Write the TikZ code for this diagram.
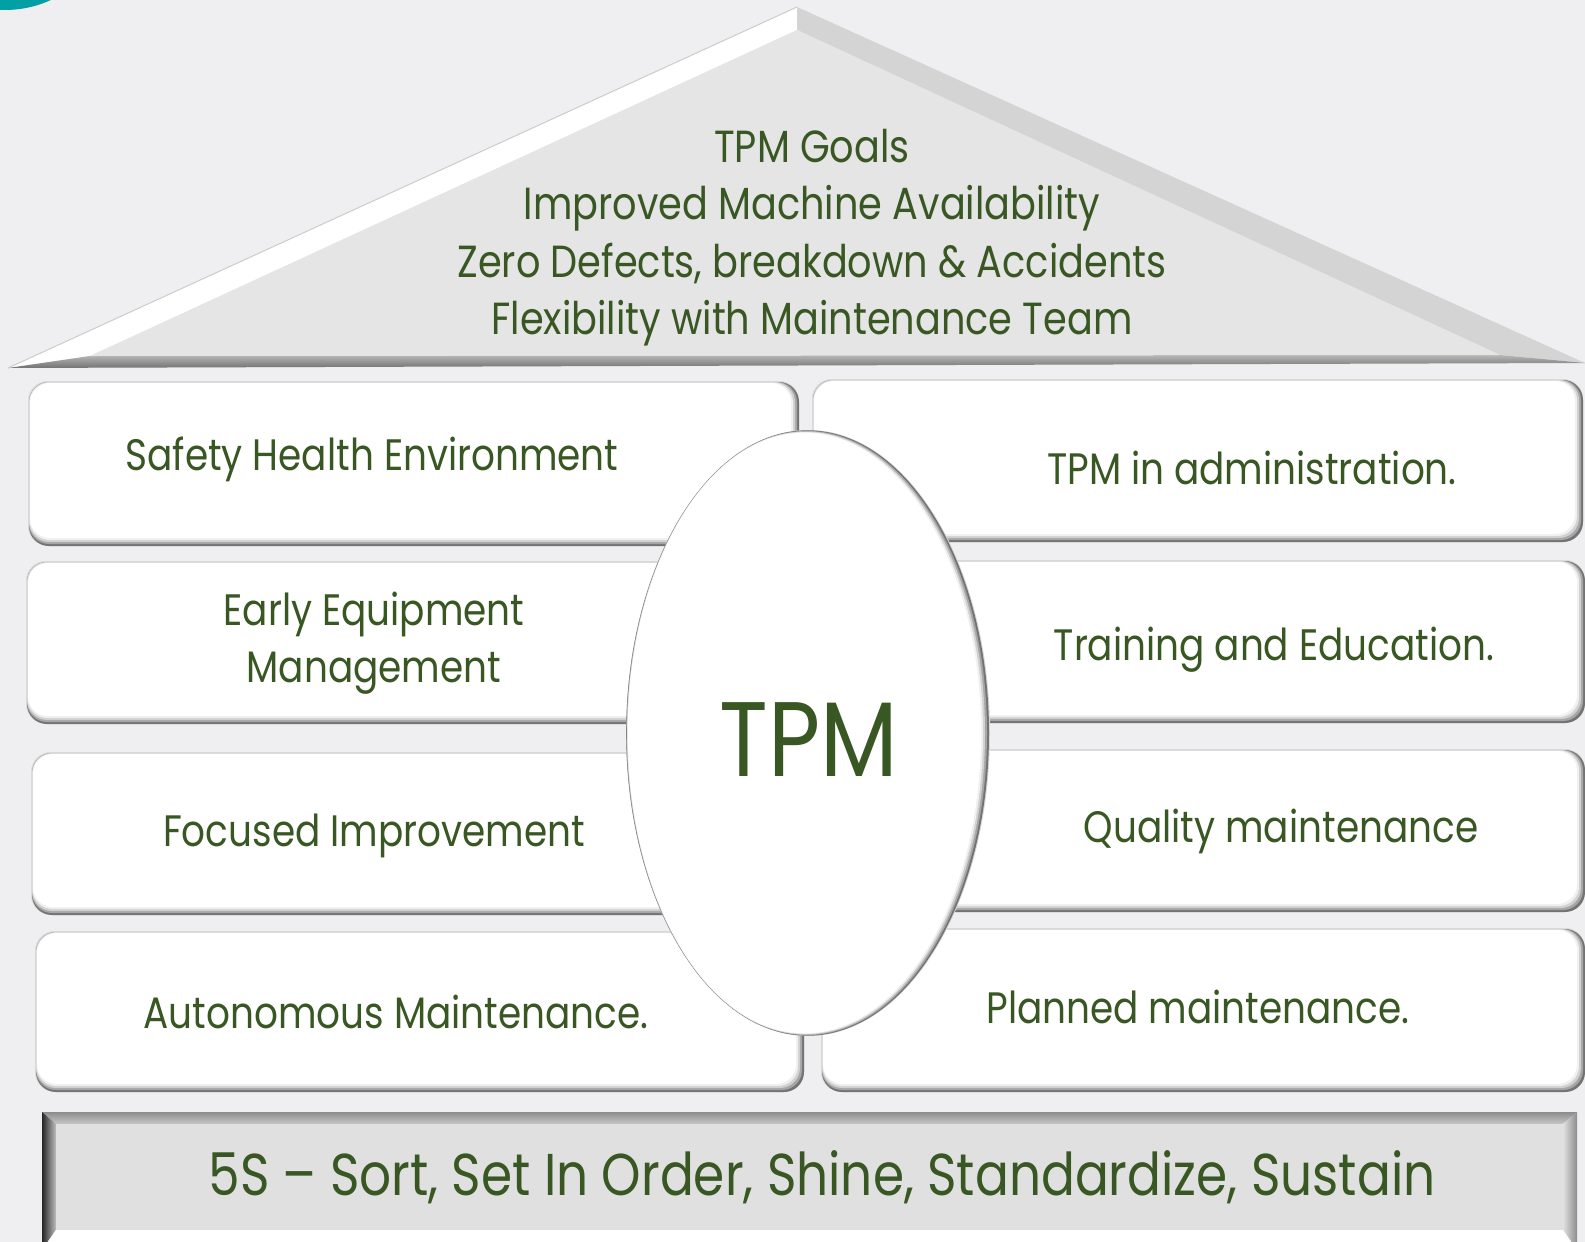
\documentclass[tikz,border=0pt]{standalone}
\usepackage{fontspec}
\setmainfont{Poppins}[FakeStretch=0.85]
\usetikzlibrary{shapes.geometric, positioning}
\definecolor{fondo}{RGB}{239,238,240}
\definecolor{techo}{RGB}{229,229,229}
\definecolor{verde}{RGB}{56,87,35}
\definecolor{turquesa}{RGB}{0,160,165}
\tikzstyle{rotulo} = [text=verde, inner sep=0pt, 
text height=32pt, text depth=9pt, 
font=\fontsize{44}{52}\selectfont]
\tikzstyle{meta} = [rotulo, font=\fontsize{45}{52}\selectfont]
\tikzstyle{sigla} = [text=verde, inner sep=0pt, font=\fontsize{106}{116}\selectfont]
\tikzstyle{base5s} = [rotulo, font=\fontsize{59}{66}\selectfont]
% caja blanca con bisel: x1, y1, x2, y2
\newcommand{\caja}[4]{%
  \foreach \tono/\a/\b in {15/0/0, 55/1/0, 35/1/2, 18/1/4, 6/1.5/6, 0/2/8}
    \fill[black!\tono, rounded corners=20pt] ({#1+\a},{#2+\a}) rectangle ({#3-\b},{#4-\b});
}

\begin{document}
\begin{tikzpicture}[x=1pt, y=-1pt]
        % Fondo
        \clip (0,0) rectangle (1585,1242);
        \fill[fondo] (0,0) rectangle (1585,1242);
        \fill[turquesa] (5,-100) circle [radius=110];

        % Tejado
        \coordinate (cumbre) at (797,7);
        \coordinate (aleroI) at (8,368);
        \coordinate (aleroD) at (1585,363);
        \coordinate (cumbreI) at (797,30);
        \coordinate (baseI) at (90,356);
        \coordinate (baseD) at (1500,355);
        \fill[white] (cumbre) -- (aleroI) -- (baseI) -- (cumbreI) -- cycle;
        \fill[black!17] (cumbre) -- (aleroD) -- (baseD) -- (cumbreI) -- cycle;
        \shade[top color=black!28, bottom color=black!55] (aleroI) -- (baseI) -- (baseD) -- (aleroD) -- cycle;
        \fill[techo] (cumbreI) -- (baseI) -- (baseD) -- cycle;
        \draw[black!20, line width=1pt] (aleroI) -- (cumbre);

        \node[meta] (meta1) at (812,151) {TPM Goals};
        \node[meta, below=16pt of meta1] (meta2) {Improved Machine Availability};
        \node[meta, below=16pt of meta2] (meta3) {Zero Defects, breakdown \& Accidents};
        \node[meta, below=16pt of meta3] (meta4) {Flexibility with Maintenance Team};

        % Pilares
        \caja{28}{381}{799}{546}
        \caja{812}{379}{1583}{542}
        \caja{26}{561}{800}{724}
        \caja{812}{560}{1585}{723}
        \caja{31}{752}{800}{915}
        \caja{812}{749}{1585}{912}
        \caja{35}{931}{804}{1092}
        \caja{821}{928}{1585}{1092}

        % Ovalo central
        \foreach \tono/\ins in {15/0, 55/1, 35/3, 18/5, 6/7, 0/9}
          \fill[black!\tono] ({808-0.4*\ins},733) ellipse [x radius={182-0.6*\ins}, y radius={303-0.3*\ins}];

        \node[rotulo] (seguridad) at (372,459) {Safety Health Environment};
        \node[rotulo] (equipos) at (374,614) {Early Equipment};
        \node[rotulo, below=16pt of equipos] (equipos2) {Management};
        \node[rotulo] (mejora) at (374,835) {Focused Improvement};
        \node[rotulo] (autonomo) at (396,1017) {Autonomous Maintenance.};
        \node[rotulo] (admin) at (1252,473) {TPM in administration.};
        \node[rotulo] (formacion) at (1274,649) {Training and Education.};
        \node[rotulo] (calidad) at (1281,831) {Quality maintenance};
        \node[rotulo] (planificado) at (1198,1012) {Planned maintenance.};
        \node[sigla] (tpm) at (809,740) {TPM};

        % Zocalo 5S
        \coordinate (z1) at (42,1112);
        \coordinate (z2) at (1577,1112);
        \coordinate (z3) at (1577,1250);
        \coordinate (z4) at (42,1250);
        \coordinate (i1) at (56,1124);
        \coordinate (i2) at (1563,1124);
        \coordinate (i3) at (1563,1230);
        \coordinate (i4) at (56,1230);
        \shade[top color=black!45, bottom color=black!22] (z1) -- (z2) -- (i2) -- (i1) -- cycle;
        \shade[left color=black!85, right color=black!25] (z1) -- (i1) -- (i4) -- (z4) -- cycle;
        \shade[left color=black!12, right color=black!45] (z2) -- (i2) -- (i3) -- (z3) -- cycle;
        \fill[white] (z4) -- (i4) -- (i3) -- (z3) -- cycle;
        \fill[techo!98!black] (i1) rectangle (i3);
        \node[base5s] (cinco) at (822,1184) {5S -- Sort, Set In Order, Shine, Standardize, Sustain};
\end{tikzpicture}
\end{document}
